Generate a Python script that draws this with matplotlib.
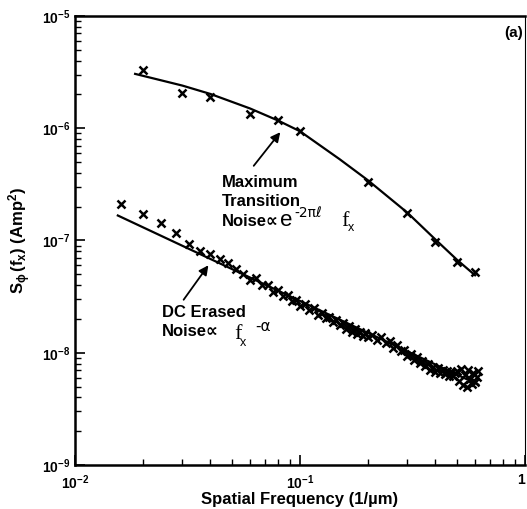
import numpy as np
import matplotlib.pyplot as plt
from matplotlib.ticker import LogLocator, NullFormatter

plt.rcParams['font.family'] = ['Liberation Sans', 'DejaVu Sans']
plt.rcParams['font.weight'] = 'bold'
plt.rcParams['mathtext.fontset'] = 'custom'
plt.rcParams['mathtext.rm'] = 'Liberation Sans:bold'
plt.rcParams['mathtext.it'] = 'Liberation Sans:bold'
plt.rcParams['mathtext.bf'] = 'Liberation Sans:bold'

# maximum transition noise, measured points
mt_f = [0.02, 0.03, 0.04, 0.06, 0.08, 0.1, 0.2, 0.3, 0.4, 0.5, 0.6]
mt_s = [3.3e-6, 2.08e-6, 1.9e-6, 1.33e-6, 1.18e-6, 9.4e-7, 3.3e-7, 1.74e-7, 9.6e-8, 6.4e-8, 5.2e-8]

# fitted curve through them
mt_fit_f = [0.0185, 0.03, 0.04, 0.06, 0.08, 0.1, 0.15, 0.2, 0.3, 0.4, 0.5, 0.6]
mt_fit_s = [3.05e-6, 2.4e-6, 2.02e-6, 1.5e-6, 1.17e-6, 9.4e-7, 5.3e-7, 3.45e-7, 1.77e-7, 1.02e-7, 6.7e-8, 4.9e-8]

# DC erased noise, measured points
dc_f = [0.016, 0.020, 0.024, 0.028, 0.032, 0.036, 0.040, 0.044, 0.048, 0.052, 0.056,
        0.060, 0.064, 0.068, 0.072, 0.076, 0.080, 0.084, 0.088, 0.092, 0.096, 0.100,
        0.105, 0.110, 0.115, 0.120, 0.125, 0.130, 0.135, 0.140, 0.145, 0.150,
        0.155, 0.160, 0.165, 0.170, 0.175, 0.180, 0.185, 0.190, 0.195,
        0.20, 0.21, 0.22, 0.23, 0.24, 0.25, 0.26, 0.27, 0.28, 0.29, 0.30,
        0.31, 0.32, 0.33, 0.34, 0.35, 0.36, 0.37, 0.38, 0.39, 0.40,
        0.41, 0.42, 0.43, 0.44, 0.45, 0.46, 0.47, 0.48, 0.49, 0.50,
        0.51, 0.52, 0.53, 0.54, 0.55, 0.56, 0.57, 0.58, 0.59, 0.60, 0.61, 0.62]
dc_s = [2.13e-7, 1.71e-7, 1.42e-7, 1.16e-7, 9.4e-8, 8.1e-8, 7.65e-8, 6.9e-8, 6.35e-8, 5.6e-8, 5.07e-8,
        4.49e-8, 4.63e-8, 4.04e-8, 4.01e-8, 3.5e-8, 3.62e-8, 3.18e-8, 3.29e-8, 2.88e-8, 2.98e-8, 2.63e-8,
        2.72e-8, 2.39e-8, 2.48e-8, 2.19e-8, 2.28e-8, 2.02e-8, 2.1e-8, 1.88e-8, 1.96e-8, 1.75e-8,
        1.83e-8, 1.64e-8, 1.72e-8, 1.54e-8, 1.63e-8, 1.46e-8, 1.54e-8, 1.4e-8, 1.5e-8,
        1.37e-8, 1.45e-8, 1.3e-8, 1.37e-8, 1.21e-8, 1.26e-8, 1.11e-8, 1.17e-8, 1.03e-8, 1.06e-8, 9.39e-9,
        9.73e-9, 8.69e-9, 9.14e-9, 8.18e-9, 8.53e-9, 7.56e-9, 7.9e-9, 7.02e-9, 7.5e-9, 6.8e-9,
        7.28e-9, 6.62e-9, 7.07e-9, 6.44e-9, 6.89e-9, 6.27e-9, 6.74e-9, 6.17e-9, 6.66e-9, 6.91e-9,
        5.63e-9, 7.2e-9, 5.18e-9, 6.37e-9, 4.97e-9, 7.05e-9, 5.86e-9, 5.29e-9, 6.63e-9, 5.51e-9, 6.1e-9, 6.91e-9]

# power law fit, end points
dc_fit_f = [0.0155, 0.62]
dc_fit_s = [1.67e-7, 5.2e-9]

fig = plt.figure(figsize=(5.27, 5.09), dpi=100)
ax = fig.add_axes([75/527, 44/509, 450/527, 449/509])

ax.plot(mt_fit_f, mt_fit_s, color='black', lw=1.6)
ax.plot(mt_f, mt_s, 'x', color='black', ms=6, mew=1.8)
ax.plot(dc_fit_f, dc_fit_s, color='black', lw=1.6)
ax.plot(dc_f, dc_s, 'x', color='black', ms=6, mew=1.8)

ax.set_xscale('log')
ax.set_yscale('log')
ax.set_xlim(1e-2, 1)
ax.set_ylim(1e-9, 1e-5)

ax.xaxis.set_minor_locator(LogLocator(base=10, subs=np.arange(2, 10)))
ax.yaxis.set_minor_locator(LogLocator(base=10, subs=np.arange(2, 10)))
ax.xaxis.set_minor_formatter(NullFormatter())
ax.yaxis.set_minor_formatter(NullFormatter())
ax.tick_params(which='both', direction='in', top=False, right=False, labelsize=10)
ax.tick_params(which='major', length=7, width=1.2)
ax.tick_params(which='minor', length=4, width=1.0)
ax.tick_params(axis='x', which='major', pad=6)
ax.set_xticks([1e-2, 1e-1, 1])
ax.set_xticklabels([r'$10^{-2}$', r'$10^{-1}$', '1'])
ax.get_xticklabels()[-1].set_horizontalalignment('right')

for s in ['left', 'bottom', 'top']:
    ax.spines[s].set_linewidth(1.8)
ax.spines['right'].set_linewidth(0.8)

ax.set_xlabel('Spatial Frequency (1/\u00b5m)', fontsize=12, fontweight='bold', labelpad=0)
ax.set_ylabel(r'$S_{\phi}\,(f_x)$ (Amp$^2$)', fontsize=12, fontweight='bold', labelpad=6)


def axf(x, y):
    # pixel position in the picture -> axes fraction
    return ((x - 75) / 450, 1 - (y - 16) / 449)


ax.text(*axf(523, 37), '(a)', transform=ax.transAxes, ha='right', fontsize=11, fontweight='bold')

ax.text(*axf(222, 187), 'Maximum', transform=ax.transAxes, fontsize=12, fontweight='bold')
ax.text(*axf(222, 206), 'Transition', transform=ax.transAxes, fontsize=12, fontweight='bold')
ax.text(*axf(222, 226), 'Noise\u221d', transform=ax.transAxes, fontsize=12, fontweight='bold')
ax.text(*axf(280, 226), 'e', transform=ax.transAxes, fontsize=16, fontweight='normal')
ax.text(*axf(294, 217), '-2\u03c0\u2113', transform=ax.transAxes, fontsize=10, fontweight='normal',
        family=['DejaVu Sans'])
ax.text(*axf(341, 226), 'f', transform=ax.transAxes, fontsize=16, fontweight='normal',
        family=['Liberation Serif'])
ax.text(*axf(348, 231), 'x', transform=ax.transAxes, fontsize=9, fontweight='normal')

ax.text(*axf(162, 317), 'DC Erased', transform=ax.transAxes, fontsize=12, fontweight='bold')
ax.text(*axf(162, 336), 'Noise\u221d', transform=ax.transAxes, fontsize=12, fontweight='bold')
ax.text(*axf(234, 339), 'f', transform=ax.transAxes, fontsize=16, fontweight='normal',
        family=['Liberation Serif'])
ax.text(*axf(240, 346), 'x', transform=ax.transAxes, fontsize=9, fontweight='normal')
ax.text(*axf(255, 331), '-\u03b1', transform=ax.transAxes, fontsize=11, fontweight='normal',
        family=['DejaVu Sans'])

arrow = dict(arrowstyle='-|>', color='black', lw=1.3, mutation_scale=14)
ax.annotate('', xy=axf(282, 130), xytext=axf(252, 168), xycoords='axes fraction',
            textcoords='axes fraction', arrowprops=arrow)
ax.annotate('', xy=axf(210, 263), xytext=axf(182, 302), xycoords='axes fraction',
            textcoords='axes fraction', arrowprops=arrow)

fig.savefig('out.png', dpi=100)
